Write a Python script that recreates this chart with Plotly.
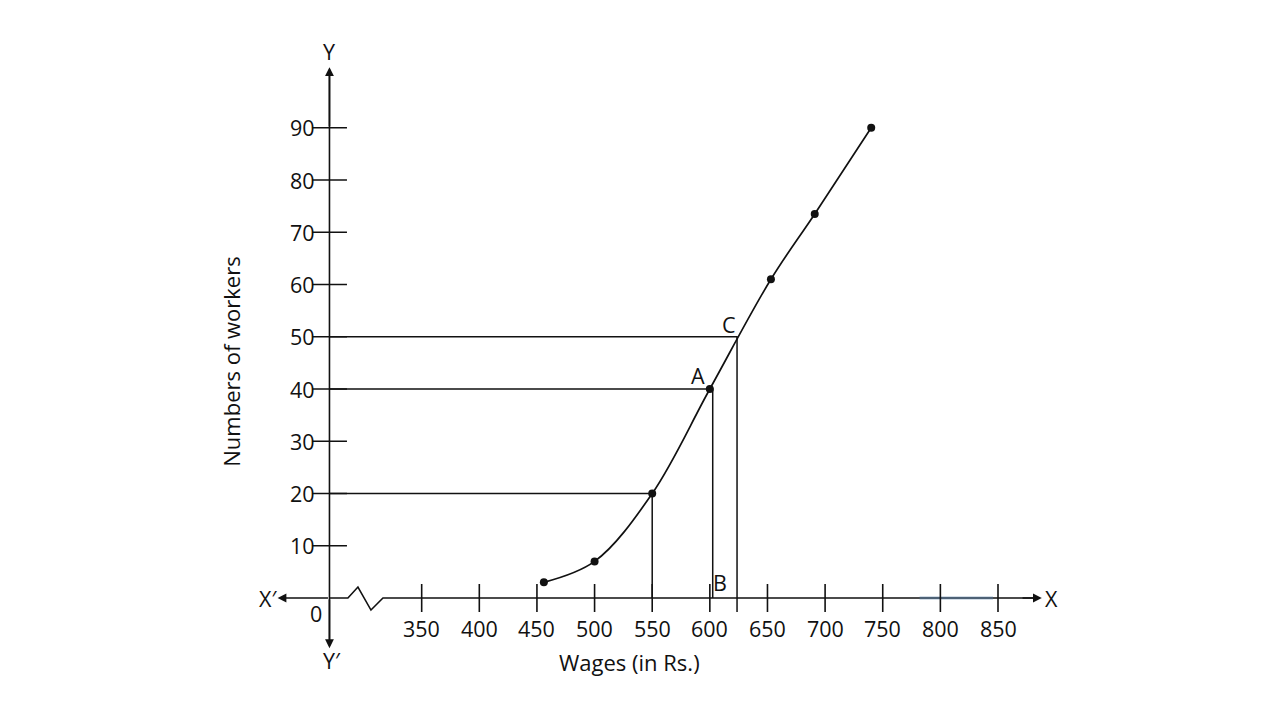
"""Less-than ogive of workers' wages, drawn in textbook style."""

import plotly.graph_objects as go

# ogive points (wages in Rs., cumulative number of workers)
wages = [456, 500, 550, 600, 653, 691, 740]
workers = [3, 7, 20, 40, 61, 73.5, 90]

# read-off guide lines: (wage, workers)
guide_q1 = (550, 20)
guide_a = (600, 40)
guide_b_x = 602.5
guide_c = (623.6, 50)

x_ticks = [350, 400, 450, 500, 550, 600, 650, 700, 750, 800, 850]
y_ticks = [10, 20, 30, 40, 50, 60, 70, 80, 90]

Y_AXIS_X = 270  # where the broken x-axis meets the y-axis
INK = "#111111"
FONT = "Open Sans"

fig = go.Figure()

# y-axis line
fig.add_trace(
    go.Scatter(
        x=[Y_AXIS_X, Y_AXIS_X],
        y=[-8, 100],
        mode="lines",
        line={"color": INK, "width": 1.6},
        hoverinfo="skip",
    )
)

# x-axis with the break zigzag near the origin
fig.add_trace(
    go.Scatter(
        x=[Y_AXIS_X, 286, 294.7, 306, 316.4, 882],
        y=[0, 0, 2.1, -2.3, 0, 0],
        mode="lines",
        line={"color": INK, "width": 1.6},
        hoverinfo="skip",
    )
)
fig.add_trace(
    go.Scatter(
        x=[782, 845.6],
        y=[0, 0],
        mode="lines",
        line={"color": "rgba(80,120,160,0.5)", "width": 3},
        hoverinfo="skip",
    )
)

# guide lines
for wx, wy, y_end in [
    (guide_q1[0], guide_q1[1], 0),
    (guide_b_x, guide_a[1], 0),
    (guide_c[0], guide_c[1], -2.7),
]:
    fig.add_trace(
        go.Scatter(
            x=[Y_AXIS_X, wx, wx],
            y=[wy, wy, y_end],
            mode="lines",
            line={"color": INK, "width": 1.5},
            hoverinfo="skip",
        )
    )

# ogive curve
fig.add_trace(
    go.Scatter(
        x=wages,
        y=workers,
        mode="lines+markers",
        line={"color": INK, "width": 1.7, "shape": "spline", "smoothing": 1.0},
        marker={"color": INK, "size": 8},
        hoverinfo="skip",
    )
)

# tick marks
fig.add_trace(
    go.Scatter(
        x=x_ticks,
        y=[0] * len(x_ticks),
        mode="markers",
        marker={"symbol": "line-ns", "size": 20, "line": {"color": INK, "width": 1.6}},
        hoverinfo="skip",
    )
)
fig.add_trace(
    go.Scatter(
        x=[Y_AXIS_X] * len(y_ticks),
        y=y_ticks,
        mode="markers",
        marker={"symbol": "line-ew", "size": 25, "line": {"color": INK, "width": 1.6}},
        hoverinfo="skip",
    )
)

annotations = []
label_font = {"family": FONT, "size": 21.5, "color": INK}
title_font = {"family": FONT, "size": 22, "color": INK}

for t in x_ticks:
    annotations.append(
        dict(x=t, y=0, text=str(t), showarrow=False, yshift=-30, font=label_font)
    )
for t in y_ticks:
    annotations.append(
        dict(x=Y_AXIS_X, y=t, text=str(t), showarrow=False, xanchor="right",
             xshift=-12, font=label_font)
    )

# axes arrows
arrow = dict(text="", showarrow=True, arrowhead=2, arrowsize=1.1, arrowwidth=1.6,
             arrowcolor=INK, axref="x", ayref="y")
annotations += [
    dict(arrow, x=888, y=0, ax=870, ay=0),
    dict(arrow, x=225, y=0, ax=Y_AXIS_X, ay=0),
    dict(arrow, x=Y_AXIS_X, y=101.6, ax=Y_AXIS_X, ay=90),
    dict(arrow, x=Y_AXIS_X, y=-9.6, ax=Y_AXIS_X, ay=0),
]

# letters
for text, x, y in [
    ("X", 896.8, 0),
    ("X′", 216.7, 0),
    ("Y", Y_AXIS_X, 104.5),
    ("Y′", Y_AXIS_X + 2, -11.9),
    ("0", 258.4, -2.9),
    ("A", 589.8, 42.5),
    ("B", 608.8, 2.9),
    ("C", 616.6, 52.4),
]:
    annotations.append(dict(x=x, y=y, text=text, showarrow=False, font=label_font))

annotations.append(
    dict(x=529.9, y=-12.25, text="Wages (in Rs.)", showarrow=False, font=title_font)
)
annotations.append(
    dict(x=184.5, y=45.2, text="Numbers of workers", showarrow=False, textangle=-90,
         font=title_font)
)

# ranges offset by the 8px page margin so the drawing lands where the reference has it
fig.update_layout(
    width=1280,
    height=720,
    margin={"l": 0, "r": 0, "t": 0, "b": 0},
    paper_bgcolor="white",
    plot_bgcolor="white",
    showlegend=False,
    annotations=annotations,
    xaxis={"range": [-8.9, 1101.6], "visible": False, "fixedrange": True},
    yaxis={"range": [-24.88, 112.92], "visible": False, "fixedrange": True},
)

fig.write_html("out.html", config={"displayModeBar": False})
